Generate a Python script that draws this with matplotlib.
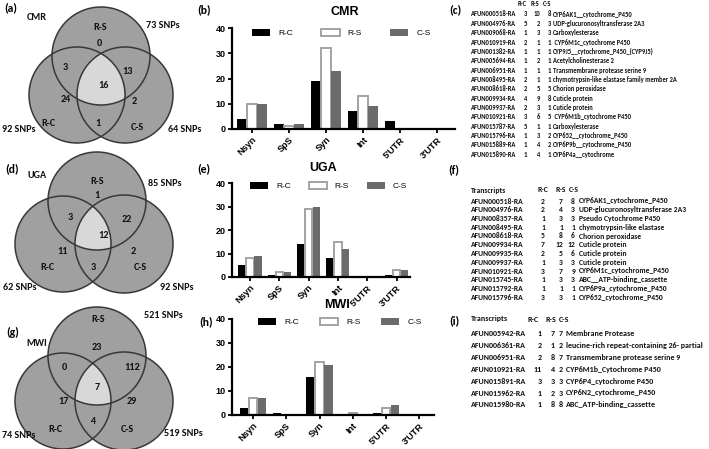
import numpy as np
import matplotlib
matplotlib.use('Agg')
import matplotlib.pyplot as plt
from matplotlib.patches import Circle, Polygon

W, H = 709, 449

# ---------------- data ----------------
bar_categories = ['Nsyn', 'SpS', 'Syn', 'Int', "5'UTR", "3'UTR"]
series_names = ['R-C', 'R-S', 'C-S']
cmr_rc = [4, 2, 19, 7, 3, 0]
cmr_rs = [10, 1, 32, 13, 0, 0]
cmr_cs = [10, 2, 23, 9, 0, 0]
uga_rc = [5, 1, 14, 8, 0, 1]
uga_rs = [8, 2, 29, 15, 0, 3]
uga_cs = [9, 2, 30, 12, 0, 3]
mwi_rc = [3, 1, 16, 0, 1, 0]
mwi_rs = [7, 0, 22, 1, 3, 0]
mwi_cs = [7, 0, 21, 0, 4, 0]
y_ticks = [0, 10, 20, 30, 40]

# venn region counts: RS only, RC&RS, RS&CS, all three, RC only, CS only, RC&CS
cmr_venn = [0, 3, 13, 16, 24, 2, 1]
uga_venn = [1, 3, 22, 12, 11, 2, 3]
mwi_venn = [23, 0, 112, 7, 17, 29, 4]
# totals: RS, RC, CS
cmr_totals = [73, 92, 64]
uga_totals = [85, 62, 92]
mwi_totals = [521, 74, 519]

c_ids = ['AFUN000518-RA', 'AFUN004976-RA', 'AFUN009068-RA', 'AFUN010919-RA',
         'AFUN001382-RA', 'AFUN005694-RA', 'AFUN006951-RA', 'AFUN008495-RA',
         'AFUN008618-RA', 'AFUN009934-RA', 'AFUN009937-RA', 'AFUN010921-RA',
         'AFUN015787-RA', 'AFUN015796-RA', 'AFUN015889-RA', 'AFUN015890-RA']
c_rc = [3, 5, 1, 2, 1, 1, 1, 2, 2, 4, 2, 3, 5, 1, 1, 1]
c_rs = [10, 2, 3, 1, 1, 2, 1, 1, 5, 9, 3, 6, 1, 3, 4, 4]
c_cs = [8, 3, 3, 1, 1, 1, 1, 1, 5, 8, 1, 5, 1, 2, 2, 1]
c_desc = ['CYP6AK1__cytochrome_P450', 'UDP-glucuronosyltransferase 2A3',
          'Carboxylesterase', ' CYP6M1c_cytochrome P450',
          'CYP9J5__cytochrome_P450_(CYP9J5)', 'Acetylcholinesterase 2',
          'Transmembrane protease serine 9',
          'chymotrypsin-like elastase family member 2A', 'Chorion peroxidase',
          'Cuticle protein', 'Cuticle protein', ' CYP6M1b_cytochrome P450',
          'Carboxylesterase', 'CYP652__cytochrome_P450',
          'CYP6P9b__cytochrome_P450', 'CYP6P4a__cytochrome']

f_ids = ['AFUN000518-RA', 'AFUN004976-RA', 'AFUN008357-RA', 'AFUN008495-RA',
         'AFUN008618-RA', 'AFUN009934-RA', 'AFUN009935-RA', 'AFUN009937-RA',
         'AFUN010921-RA', 'AFUN015745-RA', 'AFUN015792-RA', 'AFUN015796-RA']
f_rc = [2, 2, 1, 1, 5, 7, 2, 1, 3, 1, 1, 3]
f_rs = [7, 4, 3, 1, 8, 12, 5, 3, 7, 3, 1, 3]
f_cs = [8, 3, 3, 1, 6, 12, 6, 3, 9, 3, 1, 1]
f_desc = ['CYP6AK1_cytochrome_P450', 'UDP-glucuronosyltransferase 2A3',
          'Pseudo Cytochrome P450', 'chymotrypsin-like elastase',
          'Chorion peroxidase', 'Cuticle protein', 'Cuticle protein',
          'Cuticle protein', 'CYP6M1c_cytochrome_P450',
          'ABC__ATP-binding_cassette', 'CYP6P9a_cytochrome_P450',
          'CYP652_cytochrome_P450']

i_ids = ['AFUN005942-RA', 'AFUN006361-RA', 'AFUN006951-RA', 'AFUN010921-RA',
         'AFUN015891-RA', 'AFUN015962-RA', 'AFUN015980-RA']
i_rc = [1, 2, 2, 11, 3, 1, 1]
i_rs = [7, 1, 8, 4, 3, 2, 8]
i_cs = [7, 2, 7, 2, 3, 3, 8]
i_desc = ['Membrane Protease', 'leucine-rich repeat-containing 26- partial',
          'Transmembrane protease serine 9', 'CYP6M1b_Cytochrome P450',
          'CYP6P4_cytochrome P450', 'CYP6N2_cytochrome_P450',
          'ABC_ATP-binding_cassette']

# ---------------- styling ----------------
plt.rcParams['font.family'] = ['Liberation Sans', 'DejaVu Sans']
NARROW = ['Carlito', 'Lato', 'DejaVu Sans']

fig = plt.figure(figsize=(W / 100, H / 100), dpi=100)
bg = fig.add_axes([0, 0, 1, 1])
bg.set_xlim(0, W)
bg.set_ylim(H, 0)
bg.axis('off')

VENN_FILL = '#a0a0a0'
VENN_CORE = '#d8d8d8'
VENN_EDGE = '#383838'


def triple_polygon(centers, radii, n=360):
    p = np.mean(np.array(centers, dtype=float), axis=0)
    pts = []
    for th in np.linspace(0, 2 * np.pi, n, endpoint=False):
        d = np.array([np.cos(th), np.sin(th)])
        tmin = np.inf
        for c, r in zip(centers, radii):
            q = p - np.array(c, dtype=float)
            b = d @ q
            cc = q @ q - r * r
            t = -b + np.sqrt(b * b - cc)
            tmin = min(tmin, t)
        pts.append(p + tmin * d)
    return np.array(pts)


def draw_venn(centers, radii, counts, count_pos, totals, total_pos,
              name_pos, pop, pop_pos, letter, letter_pos):
    for c, r in zip(centers, radii):
        bg.add_patch(Circle(c, r, facecolor=VENN_FILL, edgecolor='none', zorder=1))
    bg.add_patch(Polygon(triple_polygon(centers, radii), closed=True,
                         facecolor=VENN_CORE, edgecolor='none', zorder=2))
    for c, r in zip(centers, radii):
        bg.add_patch(Circle(c, r, facecolor='none', edgecolor=VENN_EDGE,
                            lw=1.1, zorder=3))
    kw = dict(family=NARROW, fontweight='bold', fontsize=7.3, ha='center',
              va='center', zorder=4, color='#111111')
    for v, (x, y) in zip(counts, count_pos):
        bg.text(x, y, str(v), **kw)
    for nm, (x, y) in zip(['R-S', 'R-C', 'C-S'], name_pos):
        bg.text(x, y, nm, **kw)
    for v, (x, y) in zip(totals, total_pos):
        bg.text(x, y, f'{v} SNPs', **kw)
    bg.text(pop_pos[0], pop_pos[1], pop, **kw)
    bg.text(letter_pos[0], letter_pos[1], letter, family=NARROW,
            fontweight='bold', fontsize=8.5, ha='center', va='center')


# (a) CMR
draw_venn(centers=[(101, 56), (77, 95), (125, 95)], radii=[49, 48, 48],
          counts=cmr_venn,
          count_pos=[(99, 43), (65, 68), (128, 71), (103, 86), (66, 100),
                     (134, 101), (98, 123)],
          totals=cmr_totals, total_pos=[(163, 26), (19, 130), (185, 129)],
          name_pos=[(100, 28), (48, 124), (137, 127)],
          pop='CMR', pop_pos=(37, 18), letter='(a)', letter_pos=(11, 8))
# (d) UGA
draw_venn(centers=[(97, 201), (63, 244), (124, 244)], radii=[49, 48, 49],
          counts=uga_venn,
          count_pos=[(97, 195), (70, 218), (127, 219), (103, 236), (63, 251),
                     (133, 251), (93, 268)],
          totals=uga_totals, total_pos=[(165, 183), (20, 288), (177, 287)],
          name_pos=[(97, 182), (47, 268), (140, 268)],
          pop='UGA', pop_pos=(37, 175), letter='(d)', letter_pos=(12, 169))
# (g) MWI
draw_venn(centers=[(97, 356), (63, 401), (124, 401)], radii=[49, 48, 49],
          counts=mwi_venn,
          count_pos=[(97, 347), (64, 367), (132, 367), (97, 387), (63, 402),
                     (132, 402), (93, 421)],
          totals=mwi_totals, total_pos=[(163, 315), (19, 436), (183, 434)],
          name_pos=[(98, 320), (55, 429), (127, 429)],
          pop='MWI', pop_pos=(37, 343), letter='(g)', letter_pos=(13, 332))


# ---------------- bar panels ----------------
def bar_panel(left, right, top, bottom, first_px, step_px, rc, rs, cs,
              title, title_pos, leg_pos, colspace, letter, letter_pos):
    ax = fig.add_axes([left / W, 1 - bottom / H, (right - left) / W,
                       (bottom - top) / H])
    ax.set_facecolor('none')
    x = np.arange(len(bar_categories))
    w = 0.25
    off = 0.27
    ax.bar(x - off, rc, w, color='black', label=series_names[0], zorder=2)
    ax.bar(x, rs, w, facecolor='white', edgecolor='#a3a3a3', lw=1.4,
           label=series_names[1], zorder=2)
    ax.bar(x + off, cs, w, color='#6b6b6b', label=series_names[2], zorder=2)
    ax.set_xlim((left - first_px) / step_px, (right - first_px) / step_px)
    ax.set_ylim(0, 40)
    ax.set_yticks(y_ticks)
    ax.set_xticks(x)
    ax.set_xticklabels(bar_categories, rotation=45, ha='right',
                       rotation_mode='anchor', fontsize=6.6, fontweight='bold')
    for lb in ax.get_yticklabels():
        lb.set_fontweight('bold')
        lb.set_fontsize(6.5)
    for s in ['top', 'right']:
        ax.spines[s].set_visible(False)
    for s in ['left', 'bottom']:
        ax.spines[s].set_linewidth(1.6)
        ax.spines[s].set_zorder(3)
    ax.tick_params(direction='out', length=3, width=1.3, pad=1.5)
    ax.legend(ncol=3, frameon=False, loc='center left',
              bbox_to_anchor=(leg_pos[0] / W, 1 - leg_pos[1] / H),
              bbox_transform=fig.transFigure, borderpad=0,
              borderaxespad=0, fontsize=6, handlelength=2.2,
              handleheight=0.85, handletextpad=0.95,
              columnspacing=colspace)
    bg.text(title_pos[0], title_pos[1], title, fontweight='bold', fontsize=9,
            ha='center', va='center')
    bg.text(letter_pos[0], letter_pos[1], letter, family=NARROW,
            fontweight='bold', fontsize=8.5, ha='center', va='center')
    return ax


bar_panel(232, 455, 28, 129, 252, 37.0, cmr_rc, cmr_rs, cmr_cs,
          'CMR', (345, 12), (252, 33), 3.4, '(b)', (204, 10))
bar_panel(232, 410, 183, 277, 250, 29.3, uga_rc, uga_rs, uga_cs,
          'UGA', (323, 168), (250, 186), 2.1, '(e)', (204, 169))
bar_panel(232, 434, 319, 415, 253, 33.25, mwi_rc, mwi_rs, mwi_cs,
          'MWI', (337, 305), (258, 322), 2.5, '(h)', (206, 322))


# ---------------- tables ----------------
def draw_table(ids, rc, rs, cs, desc, y0, dy, fs, head_y, head_x, num_x,
               desc_x, header_first, letter, letter_pos):
    kw = dict(family=NARROW, fontweight='bold', fontsize=fs, va='center',
              color='#111111')
    if header_first:
        bg.text(471, head_y, 'Transcripts', ha='left', **kw)
    for nm, hx in zip(series_names, head_x):
        bg.text(hx, head_y, nm, ha='left', **kw)
    for k in range(len(ids)):
        y = y0 + k * dy
        bg.text(471, y, ids[k], ha='left', **kw)
        bg.text(num_x[0], y, str(rc[k]), ha='right', **kw)
        bg.text(num_x[1], y, str(rs[k]), ha='right', **kw)
        bg.text(num_x[2], y, str(cs[k]), ha='right', **kw)
        bg.text(desc_x, y, desc[k], ha='left', **kw)
    bg.text(letter_pos[0], letter_pos[1], letter, family=NARROW,
            fontweight='bold', fontsize=8.5, ha='center', va='center')


draw_table(c_ids, c_rc, c_rs, c_cs, c_desc, 14, 9.35, 4.7, 4,
           (518, 531, 543), (527, 540, 551), 553, False, '(c)', (455, 10))
draw_table(f_ids, f_rc, f_rs, f_cs, f_desc, 201, 8.75, 5.5, 190,
           (537, 555, 569), (545, 563, 575), 579, True, '(f)', (454, 170))
draw_table(i_ids, i_rc, i_rs, i_cs, i_desc, 334, 11.8, 5.8, 319,
           (528, 545, 559), (542, 555, 563), 566, True, '(i)', (454, 321))

fig.savefig('out.png', dpi=100)
